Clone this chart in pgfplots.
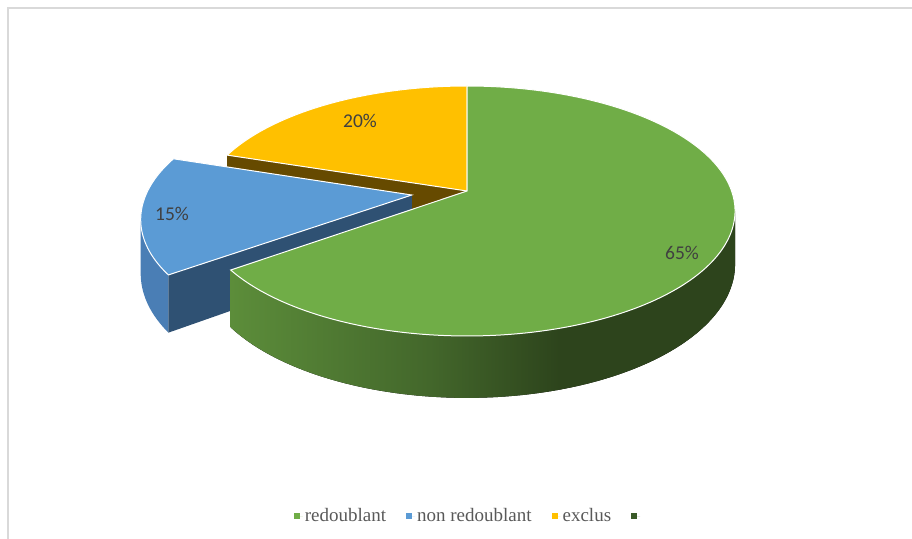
\documentclass[border=0pt]{standalone}
\usepackage{pgfplots}
\pgfplotsset{compat=1.18}
\usepgfplotslibrary{fillbetween}
\usepackage{fontspec}
\setmainfont{Liberation Serif}
\newfontfamily\lab{Carlito}
\newfontfamily\legf{Liberation Serif}
\definecolor{gTop}{HTML}{70AD47}
\definecolor{bTop}{HTML}{5B9BD5}
\definecolor{yTop}{HTML}{FFC000}
\definecolor{gDark}{HTML}{3A5A28}
\definecolor{bSide}{HTML}{4A7EB5}
\definecolor{bFace}{HTML}{2F5173}
\definecolor{yFace}{HTML}{664A00}
\definecolor{gsA}{HTML}{5C8D3A}
\definecolor{gsB}{HTML}{43672B}
\definecolor{gsC}{HTML}{2D441C}
\definecolor{lbl}{HTML}{404040}
\definecolor{leg}{HTML}{595959}
\definecolor{frm}{HTML}{D9D9D9}
\pgfdeclarehorizontalshading{greenside}{100bp}{color(0bp)=(gsA); color(25bp)=(gsA); color(44.7bp)=(gsB); color(57.6bp)=(gsC); color(100bp)=(gsC)}
% data (percent)
\def\vRed{65}
\def\vNon{15}
\def\vExc{20}
\begin{document}
\begin{tikzpicture}[declare function={
  projx(\mU,\mV)=467+264.6*\mU/(1+0.16*\mV);
  projy(\mU,\mV)=191-121.8*\mV/(1+0.16*\mV);
  projyb(\mU,\mV)=191+(52-121.8*\mV)/(1+0.16*\mV);}]
\pgfmathsetmacro\aG{90-3.6*\vRed}
\pgfmathsetmacro\aY{90+3.6*\vExc}
\pgfmathsetmacro\aB{\aY+3.6*\vNon}
\pgfmathsetmacro\aBm{(\aY+\aB)/2}
\pgfmathsetmacro\du{0.21*cos(\aBm)}
\pgfmathsetmacro\dv{0.21*sin(\aBm)}
\pgfmathsetmacro\sR{-asin(0.16)}
\pgfmathsetmacro\sL{180+asin(0.16*(1-0.98*\du)/(1+0.16*\dv))}
\pgfmathsetmacro\bcx{projx(\du,\dv)}
\pgfmathsetmacro\bcy{projy(\du,\dv)}
\begin{axis}[
  scale only axis, width=912pt, height=538pt,
  xmin=0, xmax=912, ymin=0, ymax=538, y dir=reverse,
  axis lines=none,
  legend columns=4,
  legend image code/.code={\fill[#1] (0pt,-3pt) rectangle (6pt,3pt); \path (0pt,0pt) -- (9pt,0pt);},
  legend style={at={(axis cs:469,516)}, anchor=center, draw=none, fill=none,
    font=\legf\fontsize{19}{22}\selectfont, text=leg,
    /tikz/every even column/.append style={column sep=18pt}},
]
\addlegendimage{fill=gTop, draw=none}
\addlegendentry{redoublant}
\addlegendimage{fill=bTop, draw=none}
\addlegendentry{non redoublant}
\addlegendimage{fill=yTop, draw=none}
\addlegendentry{exclus}
\addlegendimage{fill=gDark, draw=none}
\addlegendentry{\mbox{}}
% frame
\addplot[frm, line width=2pt, forget plot] coordinates {(8,560) (8,8.5) (930,8.5)};
% yellow radial face (visible because blue is pulled out)
\addplot[draw=none, name path=yfT, domain=0:1, samples=2, forget plot]
  ({projx(x*cos(\aY),x*sin(\aY))},{projy(x*cos(\aY),x*sin(\aY))});
\addplot[draw=none, name path=yfB, domain=0:1, samples=2, forget plot]
  ({projx(x*cos(\aY),x*sin(\aY))},{projyb(x*cos(\aY),x*sin(\aY))});
\addplot[fill=yFace, forget plot] fill between[of=yfT and yfB];
% blue outer side
\addplot[draw=none, name path=bsT, domain=\sL:\aB, samples=30, forget plot]
  ({projx(cos(x)+\du,sin(x)+\dv)},{projy(cos(x)+\du,sin(x)+\dv)});
\addplot[draw=none, name path=bsB, domain=\sL:\aB, samples=30, forget plot]
  ({projx(cos(x)+\du,sin(x)+\dv)},{projyb(cos(x)+\du,sin(x)+\dv)});
\addplot[fill=bSide, forget plot] fill between[of=bsT and bsB];
% blue radial face
\addplot[draw=none, name path=bfT, domain=0:1, samples=2, forget plot]
  ({projx(\du+x*cos(\aB),\dv+x*sin(\aB))},{projy(\du+x*cos(\aB),\dv+x*sin(\aB))});
\addplot[draw=none, name path=bfB, domain=0:1, samples=2, forget plot]
  ({projx(\du+x*cos(\aB),\dv+x*sin(\aB))},{projyb(\du+x*cos(\aB),\dv+x*sin(\aB))});
\addplot[fill=bFace, forget plot] fill between[of=bfT and bfB];
% green outer side
\addplot[draw=none, name path=gsT, domain=\aG:\sR, samples=100, forget plot]
  ({projx(cos(x),sin(x))},{projy(cos(x),sin(x))});
\addplot[draw=none, name path=gsB, domain=\aG:\sR, samples=100, forget plot]
  ({projx(cos(x),sin(x))},{projyb(cos(x),sin(x))});
\addplot[shading=greenside, forget plot] fill between[of=gsT and gsB];
% top faces
\addplot[fill=yTop, draw=white, line width=1pt, domain=90:\aY, samples=60, forget plot]
  ({projx(cos(x),sin(x))},{projy(cos(x),sin(x))}) -- (467,191) -- cycle;
\addplot[fill=bTop, draw=white, line width=1pt, domain=\aY:\aB, samples=50, forget plot]
  ({projx(cos(x)+\du,sin(x)+\dv)},{projy(cos(x)+\du,sin(x)+\dv)}) -- (\bcx,\bcy) -- cycle;
\addplot[fill=gTop, draw=white, line width=1pt, domain=\aG:90, samples=160, forget plot]
  ({projx(cos(x),sin(x))},{projy(cos(x),sin(x))}) -- (467,191) -- cycle;
% data labels
\node[font=\lab\fontsize{19.5}{23}\selectfont, text=lbl] at (682,253) {65\%};
\node[font=\lab\fontsize{19.5}{23}\selectfont, text=lbl] at (172,214) {15\%};
\node[font=\lab\fontsize{19.5}{23}\selectfont, text=lbl] at (360,121) {20\%};
\end{axis}
\pgfresetboundingbox
\path[use as bounding box] (0,0) rectangle (912pt,538pt);
\end{tikzpicture}
\end{document}
